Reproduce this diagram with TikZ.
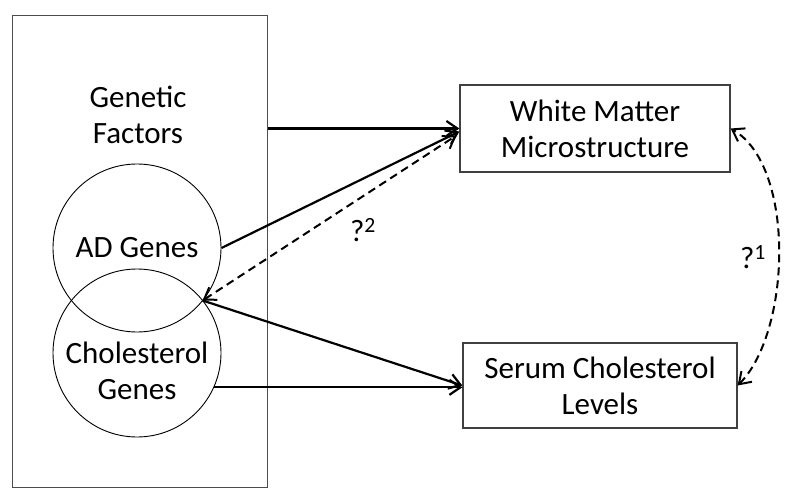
\documentclass[tikz,border=0pt]{standalone}
\usepackage{fontspec}
\setmainfont{Carlito}
\usetikzlibrary{arrows.meta,calc}

\begin{document}
\begin{tikzpicture}[x=1pt,y=1pt,
    >={Straight Barb[length=11pt,width=15pt]},
    box/.style={draw=black!75,line width=1.3pt,align=center,inner sep=0pt},
    gene/.style={draw,circle,line width=0.9pt,minimum size=168pt,inner sep=0pt},
    link/.style={line width=2.2pt},
    maybe/.style={line width=2pt,dash pattern=on 8pt off 5pt},
    font=\fontsize{31}{36}\selectfont]
  \useasboundingbox (0,0) rectangle (794,501);

  % Genetic factors block with the two overlapping gene sets
  \node[box,draw=black!70,line width=1pt,minimum width=255pt,minimum height=471pt] (genetic) at (139.5,249.5) {};
  \node[align=center] (factors) at (138,386) {Genetic\\Factors};
  \node[gene] (ad) at (137,253) {};
  \node[gene] (chol) at (137,148) {};
  \node (adlabel) at (ad) {AD Genes};
  \node[align=center] (chollabel) at ($(chol)+(0,-18)$) {Cholesterol\\Genes};
  \coordinate (meet) at (202.6,200.5);

  % Outcome boxes
  \node[box,minimum width=270pt,minimum height=87pt] (wm) at (595,372.5) {White Matter\\Microstructure};
  \node[box,minimum width=274pt,minimum height=85pt] (serum) at (600,115.5) {Serum Cholesterol\\Levels};

  % Known links
  \draw[link,->] (genetic.east |- wm.west) -- (wm.west);
  \draw[link,->] (ad.east) -- ($(wm.west)+(0,-3)$);
  \draw[link,->] (meet) -- (serum.west);
  \draw[link,->] (chol.-24) -- (chol.-24 -| serum.west);

  % Open questions
  \draw[maybe,<->] (meet) -- ($(wm.west)+(-3,-7)$);
  \node (q2) at (363,271) {?\textsuperscript{2}};
  \draw[maybe,<->] (serum.east) to[out=45,in=-30,looseness=0.75] (wm.east);
  \node (q1) at (753,244) {?\textsuperscript{1}};
\end{tikzpicture}
\end{document}
